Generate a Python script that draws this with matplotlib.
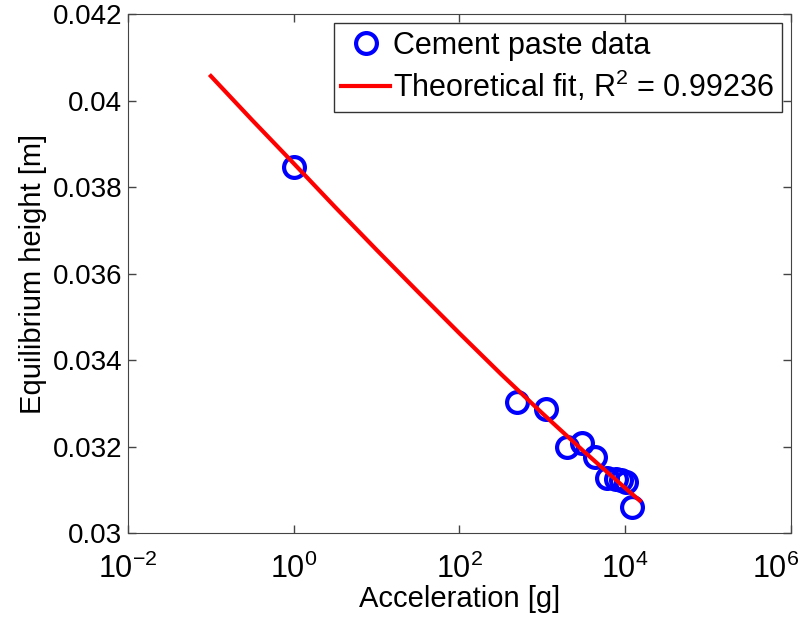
import matplotlib
matplotlib.use('Agg')
import matplotlib.pyplot as plt
from matplotlib.ticker import FuncFormatter, NullLocator
from matplotlib.transforms import ScaledTranslation

plt.rcParams['font.family'] = ['Liberation Sans', 'DejaVu Sans']
plt.rcParams['mathtext.fontset'] = 'custom'
plt.rcParams['mathtext.rm'] = 'Liberation Sans'
plt.rcParams['mathtext.it'] = 'Liberation Sans:italic'

# Measured data (acceleration in g, height in m)
accel = [1, 500, 1100, 2000, 3000, 4300, 6100, 7700, 8900, 10300, 12000]
height = [0.03847, 0.03304, 0.03287, 0.03200, 0.03209, 0.03176,
          0.03127, 0.03125, 0.03122, 0.03119, 0.03061]

# Theoretical fit curve
fit_accel = [0.1, 0.316, 1, 3.16, 10, 31.6, 100, 316, 1000, 3162, 10000, 15000]
fit_height = [0.04057, 0.03955, 0.03855, 0.03754, 0.03655, 0.03558,
              0.03462, 0.03368, 0.03277, 0.03189, 0.03104, 0.03075]

r2 = 0.99236

fig = plt.figure(figsize=(8.12, 6.2), dpi=100)
ax = fig.add_axes([0.1576, 0.1403, 0.8164, 0.8367])

ax.plot(accel, height, 'o', color='blue', markerfacecolor='none',
        markersize=15, markeredgewidth=3, label='Cement paste data')
ax.plot(fit_accel, fit_height, '-', color='red', linewidth=3,
        label='Theoretical fit, R$^2$ = %.5f' % r2)

ax.set_xscale('log')
ax.set_xlim(1e-2, 1e6)
ax.set_ylim(0.03, 0.042)
ax.set_xticks([1e-2, 1e0, 1e2, 1e4, 1e6])
ax.xaxis.set_minor_locator(NullLocator())
ax.set_yticks([0.03, 0.032, 0.034, 0.036, 0.038, 0.04, 0.042])
ax.yaxis.set_major_formatter(FuncFormatter(lambda v, p: '%g' % v))

ax.tick_params(direction='in', length=6, width=1, labelsize=20,
               top=True, right=True, color='#444444')
ax.tick_params(axis='x', pad=15, labelsize=22)
ax.tick_params(axis='y', pad=4)
for s in ax.spines.values():
    s.set_color('#444444')

# last x label shifted left so it stays inside the figure, like the original
fig.canvas.draw()
last = ax.get_xticklabels()[-1]
last.set_horizontalalignment('right')
last.set_transform(last.get_transform() + ScaledTranslation(0.08, 0, fig.dpi_scale_trans))

ax.set_xlabel('Acceleration [g]', fontsize=21, labelpad=0)
ax.set_ylabel('Equilibrium height [m]', fontsize=21, labelpad=4)

leg = ax.legend(loc='upper right', fontsize=22, fancybox=False, framealpha=1,
                edgecolor='#333333', handlelength=1.6, borderpad=0.25,
                labelspacing=0.25, handletextpad=0.1, borderaxespad=0.3)

fig.savefig('out.png', dpi=100)
